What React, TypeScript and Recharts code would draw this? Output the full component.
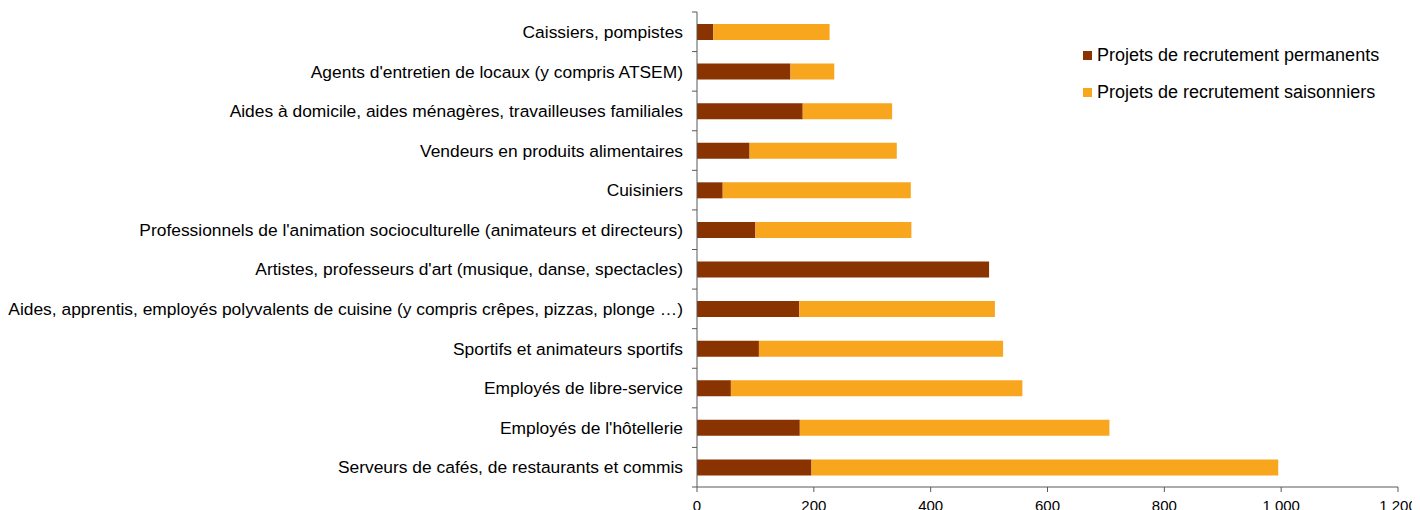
import React from "react";
import { BarChart, Bar, XAxis, YAxis, Legend } from "recharts";

const categories = [
  "Caissiers, pompistes",
  "Agents d'entretien de locaux (y compris ATSEM)",
  "Aides à domicile, aides ménagères, travailleuses familiales",
  "Vendeurs en produits alimentaires",
  "Cuisiniers",
  "Professionnels de l'animation socioculturelle (animateurs et directeurs)",
  "Artistes, professeurs d'art (musique, danse, spectacles)",
  "Aides, apprentis, employés polyvalents de cuisine (y compris crêpes, pizzas, plonge …)",
  "Sportifs et animateurs sportifs",
  "Employés de libre-service",
  "Employés de l'hôtellerie",
  "Serveurs de cafés, de restaurants et commis",
];
const permanents = [28, 160, 181, 90, 44, 100, 500, 175, 106, 58, 176, 196];
const saisonniers = [199, 75, 153, 252, 322, 267, 0, 335, 418, 499, 530, 799];
const xTicks = [0, 200, 400, 600, 800, 1000, 1200];

const SERIES_PERM = "Projets de recrutement permanents";
const SERIES_SAIS = "Projets de recrutement saisonniers";

const data = categories.map((c, i) => ({
  name: c,
  perm: permanents[i],
  sais: saisonniers[i],
}));

const FONT = "'Liberation Sans', Arial, sans-serif";
const AXIS_COLOR = "#595959";

const YTick = (props: any) => {
  const { x, y, payload, index } = props;
  const half = typeof payload?.offset === "number" && payload.offset > 0 ? payload.offset : 19.8;
  const axisX = x + 14;
  return (
    <g>
      <text
        x={x}
        y={y}
        dy="0.355em"
        textAnchor="end"
        fontSize={17.4}
        fill="#000"
        fontFamily={FONT}
      >
        {payload.value}
      </text>
      <line x1={axisX - 5} x2={axisX} y1={y - half} y2={y - half} stroke={AXIS_COLOR} strokeWidth={1} />
      {index === categories.length - 1 && (
        <line x1={axisX - 5} x2={axisX} y1={y + half} y2={y + half} stroke={AXIS_COLOR} strokeWidth={1} />
      )}
    </g>
  );
};

const renderLegend = (props: any) => {
  const payload = props.payload || [];
  return (
    <div style={{ fontFamily: FONT, fontSize: 18, color: "#000" }}>
      {payload.map((e: any, i: number) => (
        <div key={i} style={{ display: "flex", alignItems: "center", height: 37, whiteSpace: "nowrap" }}>
          <span style={{ display: "inline-block", width: 9, height: 9, background: e.color, marginRight: 5 }} />
          <span>{e.value}</span>
        </div>
      ))}
    </div>
  );
};

const fmt = (v: number) => (v >= 1000 ? `${Math.floor(v / 1000)} ${String(v % 1000).padStart(3, "0")}` : String(v));

export default function App() {
  return (
    <BarChart
      width={1412}
      height={502}
      data={data}
      layout="vertical"
      margin={{ top: 4, right: 22, bottom: 0, left: 0 }}
      barSize={16}
    >
      <XAxis
        type="number"
        domain={[0, 1200]}
        ticks={xTicks}
        tickFormatter={fmt}
        interval={0}
        height={23}
        stroke={AXIS_COLOR}
        tickSize={5}
        tickMargin={8}
        tick={{ fontSize: 15, fill: "#000", fontFamily: FONT }}
      />
      <YAxis
        type="category"
        dataKey="name"
        width={689}
        interval={0}
        stroke={AXIS_COLOR}
        tickLine={false}
        tickSize={5}
        tickMargin={9}
        tick={<YTick />}
      />
      <Legend
        layout="vertical"
        align="center"
        verticalAlign="middle"
        content={renderLegend}
        wrapperStyle={{ left: 1075, top: 29, width: 330, height: 80 }}
      />
      <Bar dataKey="perm" name={SERIES_PERM} stackId="a" fill="#883300" isAnimationActive={false} />
      <Bar dataKey="sais" name={SERIES_SAIS} stackId="a" fill="#F9A61F" isAnimationActive={false} />
    </BarChart>
  );
}
